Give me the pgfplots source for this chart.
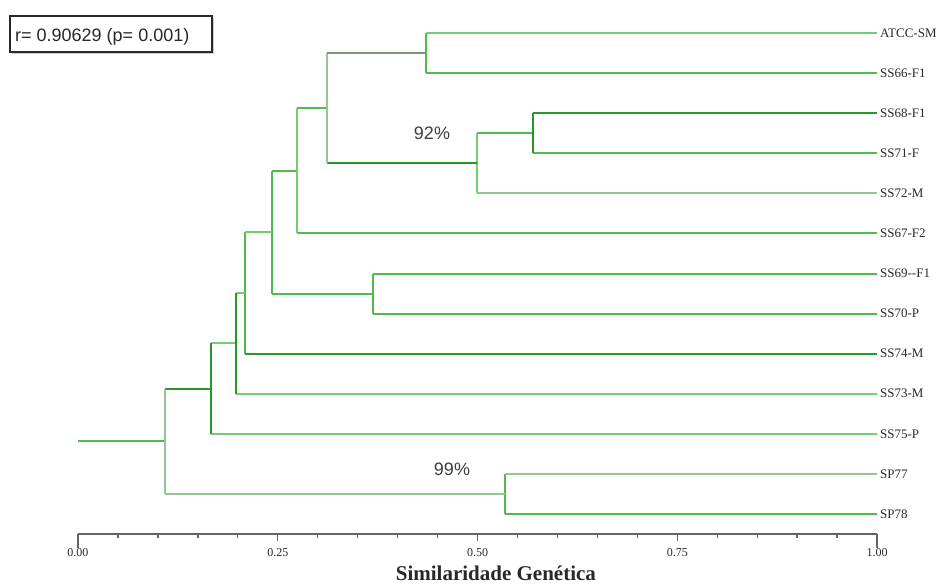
\documentclass[border=0pt]{standalone}
\usepackage{fontspec}
\setmainfont{Liberation Serif}
\newfontfamily\arialf{Liberation Sans}
\usepackage{pgfplots}
\pgfplotsset{compat=1.18}
\definecolor{gL}{RGB}{115,205,115}
\definecolor{gM}{RGB}{80,185,80}
\definecolor{gD}{RGB}{40,150,40}
\definecolor{gG}{RGB}{145,200,145}
\definecolor{gGD}{RGB}{120,150,120}
\definecolor{axgray}{RGB}{100,100,100}
\definecolor{txt}{RGB}{40,40,40}
\tikzset{leaf/.style={anchor=west, inner sep=0pt, xshift=3pt, text=txt, font=\fontsize{13}{13}\selectfont}}
\begin{document}
\begin{tikzpicture}
\useasboundingbox (0,0) rectangle (943pt,585pt);
\begin{axis}[
  at={(78pt,51pt)}, anchor=south west,
  scale only axis, width=799pt, height=533pt,
  xmin=0, xmax=1, ymin=0.5, ymax=13.8,
  axis x line*=bottom, axis y line=none,
  x axis line style={-, color=axgray, line width=1.8pt},
  xtick={0,0.25,0.5,0.75,1},
  xticklabels={0.00,0.25,0.50,0.75,1.00},
  minor x tick num=4,
  xtick align=outside,
  major tick length=7pt, minor tick length=4pt,
  every tick/.style={color=axgray, line width=1.3pt},
  every minor tick/.style={color=axgray, line width=1.3pt},
  xticklabel style={font=\fontsize{12}{12}\selectfont, text=txt, yshift=-4pt},
  ytick=\empty,
  clip=false,
  unbounded coords=jump,
  xlabel={\textbf{Similaridade Genética}},
  xlabel style={font=\fontsize{21}{21}\selectfont, text=txt, inner sep=0pt, at={(rel axis cs:0.523,0)}, anchor=base, yshift=-47pt},
]
% medium green segments
\addplot[gM, line width=2pt, line join=round] coordinates {
(0.4355,12) (1,12) (nan,nan)
(0.4355,13) (0.4355,12) (nan,nan)
(0.5695,10) (1,10) (nan,nan)
(0.4994,10.5) (0.5695,10.5) (nan,nan)
(0.2741,11.125) (0.3116,11.125) (nan,nan)
(0.2741,8) (1,8) (nan,nan)
(0.2428,9.5625) (0.2741,9.5625) (nan,nan)
(0.3692,7) (1,7) (nan,nan)
(0.3692,6) (1,6) (nan,nan)
(0.3692,7) (0.3692,6) (nan,nan)
(0.2428,6.5) (0.3692,6.5) (nan,nan)
(0.2428,9.5625) (0.2428,6.5) (nan,nan)
(0.2090,8.03125) (0.2090,5) (nan,nan)
(0.5344,1) (1,1) (nan,nan)
(0.5344,2) (0.5344,1) (nan,nan)
(0,2.8145) (0.1089,2.8145)
};
% light green segments
\addplot[gL, line width=2pt, line join=round] coordinates {
(0.4355,13) (1,13) (nan,nan)
(0.4994,10.5) (0.4994,9) (nan,nan)
(0.2741,11.125) (0.2741,8) (nan,nan)
(0.2090,8.03125) (0.2428,8.03125) (nan,nan)
(0.1977,6.5156) (0.2090,6.5156) (nan,nan)
(0.1977,4) (1,4) (nan,nan)
(0.1665,5.2578) (0.1977,5.2578) (nan,nan)
(0.1665,3) (1,3)
};
% dark green segments
\addplot[gD, line width=2pt, line join=round] coordinates {
(0.5695,11) (1,11) (nan,nan)
(0.5695,11) (0.5695,10) (nan,nan)
(0.3116,9.75) (0.4994,9.75) (nan,nan)
(0.2090,5) (1,5) (nan,nan)
(0.1977,6.5156) (0.1977,4) (nan,nan)
(0.1665,5.2578) (0.1665,3) (nan,nan)
(0.1089,4.1289) (0.1665,4.1289)
};
% grayish green segments
\addplot[gG, line width=2pt, line join=round] coordinates {
(0.4994,9) (1,9) (nan,nan)
(0.3116,12.5) (0.3116,9.75) (nan,nan)
(0.5344,2) (1,2) (nan,nan)
(0.1089,1.5) (0.5344,1.5) (nan,nan)
(0.1089,4.1289) (0.1089,1.5)
};
\addplot[gGD, line width=2pt] coordinates {(0.3116,12.5) (0.4355,12.5)};
% end ticks
\draw[axgray, line width=1.5pt] (axis cs:0,0.5) -- ++(0,6pt);
\draw[axgray, line width=1.5pt] (axis cs:1,0.5) -- ++(0,6pt);
% leaf labels
\node[leaf] at (axis cs:1,13) {ATCC-SM};
\node[leaf] at (axis cs:1,12) {SS66-F1};
\node[leaf] at (axis cs:1,11) {SS68-F1};
\node[leaf] at (axis cs:1,10) {SS71-F};
\node[leaf] at (axis cs:1,9) {SS72-M};
\node[leaf] at (axis cs:1,8) {SS67-F2};
\node[leaf] at (axis cs:1,7) {SS69-{}-F1};
\node[leaf] at (axis cs:1,6) {SS70-P};
\node[leaf] at (axis cs:1,5) {SS74-M};
\node[leaf] at (axis cs:1,4) {SS73-M};
\node[leaf] at (axis cs:1,3) {SS75-P};
\node[leaf] at (axis cs:1,2) {SP77};
\node[leaf] at (axis cs:1,1) {SP78};
\end{axis}
% correlation box
\fill[gray!40] (12pt,531pt) rectangle (214pt,567pt);
\filldraw[fill=white, draw=txt, line width=1.5pt] (10pt,533pt) rectangle (212pt,569pt);
\node[anchor=base west, inner sep=0pt, text=txt, font=\arialf\fontsize{18}{18}\selectfont] at (15pt,543.5pt) {r= 0.90629 (p= 0.001)};
\node[anchor=base, inner sep=0pt, text=txt!90, font=\arialf\fontsize{18}{18}\selectfont] at (432pt,445.5pt) {92\%};
\node[anchor=base, inner sep=0pt, text=txt!90, font=\arialf\fontsize{18}{18}\selectfont] at (452pt,109.5pt) {99\%};
\end{tikzpicture}
\end{document}
